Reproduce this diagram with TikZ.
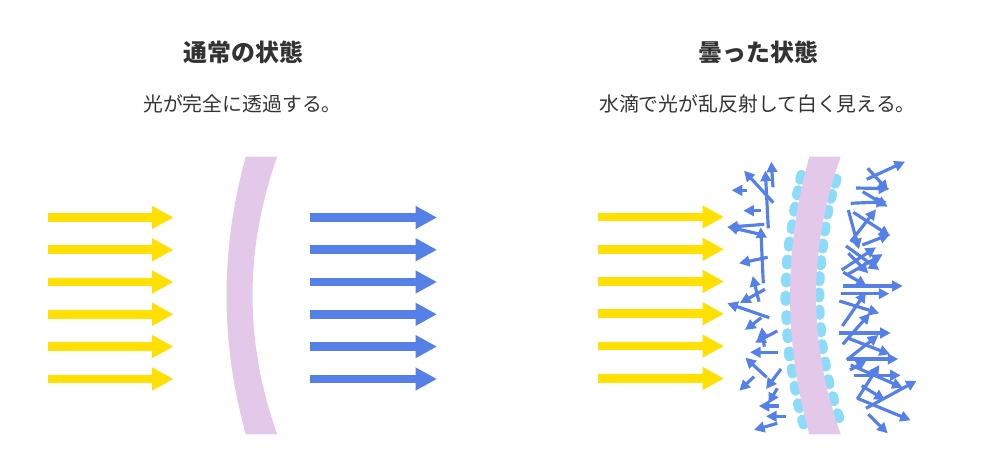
\documentclass[tikz,border=0pt]{standalone}
\usepackage{fontspec}
\usepackage{tikz}
\usetikzlibrary{arrows.meta}
\newfontfamily\jpfont{Noto Sans CJK JP}
\definecolor{lightyellow}{HTML}{FFE000}
\definecolor{lightblue}{HTML}{5580E8}
\definecolor{bandpink}{HTML}{E4C8EA}
\definecolor{dropcyan}{HTML}{8ADCF8}
\definecolor{textgray}{HTML}{333333}
\tikzstyle{title}=[text=textgray, font=\jpfont\bfseries\fontsize{13.6}{16}\selectfont]
\tikzstyle{caption}=[text=textgray, font=\jpfont\fontsize{11.3}{14}\selectfont]
\tikzstyle{bigray}=[line width=4.9pt, -{Triangle[length=12.2pt,width=12.3pt]}]
\tikzstyle{smallray}=[lightblue, line width=1.8pt, -{Triangle[length=6pt,width=6pt]}]
\tikzstyle{band}=[fill=bandpink, draw=none]
\tikzstyle{drop}=[fill=dropcyan, draw=none, inner sep=0pt, minimum width=0.21cm, minimum height=0.3cm, rounded corners=0.1cm]

\begin{document}
\begin{tikzpicture}[x=0.02cm, y=-0.02cm]
            \useasboundingbox (0,0) rectangle (1000,475);

            \node[title] (title1) at (243.2,52) {通常の状態};
            \node[title] (title2) at (758.2,52) {曇った状態};
            \node[caption] (caption1) at (242.5,104) {光が完全に透過する。};
            \node[caption] (caption2) at (757.5,104) {水滴で光が乱反射して白く見える。};

            % large rays
            \foreach \y in {217.5,249.8,282,314.3,346.6,379} {
                \draw[bigray, lightyellow] (48,\y) -- (173.5,\y);
                \draw[bigray, lightblue] (310,\y) -- (437,\y);
                \draw[bigray, lightyellow] (598,\y-0.5) -- (724,\y-0.5);
            }

            % droplets
            \foreach \x/\y in {801/177.3,797.7/192.7,794.7/209.3,792.3/226.7,789.3/244,787.3/262,786.3/280,785.7/298.3,
                    786.7/317.7,787.7/335.7,789.3/354,792.3/371,795.3/388.3,798.7/405.7,803/422,
                    835.7/181.3,831.3/196.3,827.7/212,825/229,822.7/246,820.7/262.7,819.3/278.7,819/295,
                    819.3/312.3,820.7/329.7,822.3/346.7,825.3/364,828.7/381.7,833.3/398.7,838.3/415.7} {
                \pgfmathsetmacro{\tilt}{(\y-296)*0.13}
                \node[drop, rotate=\tilt] at (\x,\y) {};
            }

            % glass
            \fill[band] (245.8,156.7) .. controls (220.1,249.5) and (220.1,341.5) .. (245.8,434.3) -- (277.2,434.3) .. controls (244.3,341.5) and (244.3,249.5) .. (277.2,156.7) -- cycle;
            \fill[band] (809.3,156.7) .. controls (783.6,249.5) and (783.6,341.5) .. (809.3,434.3) -- (840.7,434.3) .. controls (807.8,341.5) and (807.8,249.5) .. (840.7,156.7) -- cycle;

            % scattered rays
            \foreach \xa/\ya/\xb/\yb in {773/187.3/771.3/161.7,773.3/202.7/744/170.7,768.3/228.3/765.3/170.7,
                    747.3/190.3/731.7/190.3,761.3/210.7/743.3/210.7,764.3/224.3/727.3/227.3,763.3/235/727.3/226.7,
                    763.3/283.3/760.7/227.3,767.7/257.3/739/263.3,765/289.3/740/303,759/301.7/752.7/276,
                    769.3/317.7/727.3/303.3,761.3/317.7/745/330,777.3/331/755/342.7,764.3/346.7/761.7/327.3,
                    778.3/352.3/750/352.3,766.7/377.3/745.3/357.7,754/376.7/739.3/390.7,781/369/766/389,
                    777.3/388.3/768.3/403.7,778.7/406/758.7/406,786/416.3/766/416.3,777.3/423.3/754/430,
                    866.7/179.3/905/161.7,867.7/168.3/888.3/190.7,856/188/889.3/188.7,862.7/191.7/887.7/206.7,
                    850.7/203.3/886.7/201.7,848.3/210/859/249.3,850.7/241.7/876/209.3,853.3/212.3/890/236,
                    862.3/245/890/234.3,846/246/879.3/270,848.3/253.3/868.3/273.3,841.7/270/876/247.3,
                    846.7/275/882.7/254.3,843.3/272.3/866.7/286,842.7/286/902.7/286,840.7/293.7/889.3/293.7,
                    842.3/326/866/292,839.3/301/879.3/313.3,842.7/344.3/870/313.3,839.3/333/890.7/333,
                    848.3/338.3/890/354.3,846.7/360/878.3/335,846.7/359/898.3/359,850/370/866.7/360,
                    850.7/365/902.7/387.7,854/375.3/900.7/375.3,857.3/399/879.3/365,861.7/385.7/885/400,
                    866/408.3/916.7/380.7,857.3/398.3/910.7/420.3,868.3/414.3/887.7/433.3} {
                \draw[smallray] (\xa,\ya) -- (\xb,\yb);
            }
        \end{tikzpicture}
\end{document}
